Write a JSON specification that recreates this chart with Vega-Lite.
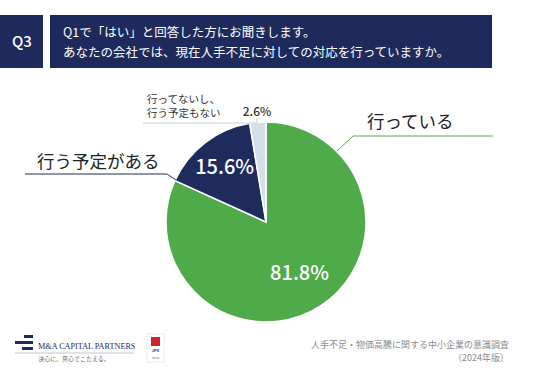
{
  "$schema": "https://vega.github.io/schema/vega-lite/v6.json",
  "width": 532,
  "height": 298,
  "autosize": {"type": "none"},
  "padding": {"left": 0, "top": 73, "right": 4, "bottom": 0},
  "background": "white",
  "config": {"view": {"stroke": null}, "font": "Noto Sans CJK JP"},
  "data": {"values": [
    {"category": "行っている", "value": 81.8, "pct": "81.8%", "order": 1},
    {"category": "行う予定がある", "value": 15.6, "pct": "15.6%", "order": 2},
    {"category": "行ってないし、行う予定もない", "value": 2.6, "pct": "2.6%", "order": 3}
  ]},
  "layer": [
    {
      "mark": {"type": "arc", "outerRadius": 100, "stroke": "white", "strokeWidth": 1.5},
      "encoding": {
        "theta": {"field": "value", "type": "quantitative", "stack": true},
        "order": {"field": "order", "type": "quantitative"},
        "color": {"field": "category", "type": "nominal", "legend": null,
          "scale": {"domain": ["行っている", "行う予定がある", "行ってないし、行う予定もない"], "range": ["#4fab4a", "#1f2b5c", "#d6dce8"]}}
      }
    },
    {
      "mark": {"type": "text", "radius": 62, "color": "white", "fontSize": 20, "fontWeight": 500, "align": "center", "baseline": "middle"},
      "encoding": {
        "theta": {"field": "value", "type": "quantitative", "stack": true},
        "order": {"field": "order", "type": "quantitative"},
        "text": {"condition": {"test": "datum.order !== 1", "value": ""}, "field": "pct"}
      }
    },
    {
      "mark": {"type": "text", "radius": 68, "color": "white", "fontSize": 20, "fontWeight": 500, "align": "center", "baseline": "middle"},
      "encoding": {
        "theta": {"field": "value", "type": "quantitative", "stack": true},
        "order": {"field": "order", "type": "quantitative"},
        "text": {"condition": {"test": "datum.order !== 2", "value": ""}, "field": "pct"}
      }
    },
    {
      "mark": {"type": "text", "radius": 110, "color": "#333333", "fontSize": 12, "fontWeight": 500, "align": "center", "baseline": "middle"},
      "encoding": {
        "theta": {"field": "value", "type": "quantitative", "stack": true},
        "order": {"field": "order", "type": "quantitative"},
        "text": {"condition": {"test": "datum.order !== 3", "value": ""}, "field": "pct"}
      }
    },
    {"data": {"values": [{}]}, "mark": {"type": "rect", "fill": "#1d2a5b"}, "encoding": {"x": {"value": 0}, "x2": {"value": 43}, "y": {"value": -58}, "y2": {"value": -5}}},
    {"data": {"values": [{}]}, "mark": {"type": "rect", "fill": "#1d2a5b"}, "encoding": {"x": {"value": 50}, "x2": {"value": 492}, "y": {"value": -58}, "y2": {"value": -5}}},
    {"data": {"values": [{}]}, "mark": {"type": "text", "x": 22, "y": -31, "text": "Q3", "color": "white", "fontSize": 15, "fontWeight": 500, "align": "center", "baseline": "middle"}, "encoding": {}},
    {"data": {"values": [{}]}, "mark": {"type": "text", "x": 63, "y": -40, "text": "Q1で「はい」と回答した方にお聞きします。", "color": "white", "fontSize": 12.5, "fontWeight": 400, "align": "left", "baseline": "middle"}, "encoding": {}},
    {"data": {"values": [{}]}, "mark": {"type": "text", "x": 63, "y": -20, "text": "あなたの会社では、現在人手不足に対しての対応を行っていますか。", "color": "white", "fontSize": 12.5, "fontWeight": 400, "align": "left", "baseline": "middle"}, "encoding": {}},
    {"data": {"values": [{}]}, "mark": {"type": "text", "x": 367, "y": 50, "text": "行っている", "color": "#222222", "fontSize": 17.5, "fontWeight": 400, "align": "left", "baseline": "middle"}, "encoding": {}},
    {"data": {"values": [{}]}, "mark": {"type": "rule", "stroke": "#4fab4a", "strokeWidth": 1}, "encoding": {"x": {"value": 337}, "y": {"value": 78}, "x2": {"value": 353}, "y2": {"value": 63}}},
    {"data": {"values": [{}]}, "mark": {"type": "rule", "stroke": "#4fab4a", "strokeWidth": 1}, "encoding": {"x": {"value": 353}, "y": {"value": 63}, "x2": {"value": 493}, "y2": {"value": 63}}},
    {"data": {"values": [{}]}, "mark": {"type": "text", "x": 37, "y": 90, "text": "行う予定がある", "color": "#222222", "fontSize": 17.5, "fontWeight": 400, "align": "left", "baseline": "middle"}, "encoding": {}},
    {"data": {"values": [{}]}, "mark": {"type": "rule", "stroke": "#1f2b5c", "strokeWidth": 1}, "encoding": {"x": {"value": 25}, "y": {"value": 101}, "x2": {"value": 167}, "y2": {"value": 101}}},
    {"data": {"values": [{}]}, "mark": {"type": "rule", "stroke": "#1f2b5c", "strokeWidth": 1}, "encoding": {"x": {"value": 167}, "y": {"value": 101}, "x2": {"value": 176}, "y2": {"value": 107}}},
    {"data": {"values": [{}]}, "mark": {"type": "text", "x": 147, "y": 27, "text": "行ってないし、", "color": "#333333", "fontSize": 10.5, "fontWeight": 400, "align": "left", "baseline": "middle"}, "encoding": {}},
    {"data": {"values": [{}]}, "mark": {"type": "text", "x": 147, "y": 40.5, "text": "行う予定もない", "color": "#333333", "fontSize": 10.5, "fontWeight": 400, "align": "left", "baseline": "middle"}, "encoding": {}},
    {"data": {"values": [{}]}, "mark": {"type": "rule", "stroke": "#c9ced9", "strokeWidth": 1}, "encoding": {"x": {"value": 143}, "y": {"value": 50}, "x2": {"value": 257}, "y2": {"value": 50}}},
    {"data": {"values": [{}]}, "mark": {"type": "rule", "stroke": "#c9ced9", "strokeWidth": 1}, "encoding": {"x": {"value": 257}, "y": {"value": 45}, "x2": {"value": 257}, "y2": {"value": 50}}},
    {"data": {"values": [{}]}, "mark": {"type": "rect", "fill": "#1f2b5c"}, "encoding": {"x": {"value": 24}, "x2": {"value": 33}, "y": {"value": 262}, "y2": {"value": 265}}},
    {"data": {"values": [{}]}, "mark": {"type": "rect", "fill": "#1f2b5c"}, "encoding": {"x": {"value": 15}, "x2": {"value": 33}, "y": {"value": 268}, "y2": {"value": 271}}},
    {"data": {"values": [{}]}, "mark": {"type": "rect", "fill": "#1f2b5c"}, "encoding": {"x": {"value": 22}, "x2": {"value": 33}, "y": {"value": 274}, "y2": {"value": 277}}},
    {"data": {"values": [{}]}, "mark": {"type": "text", "x": 38, "y": 276, "text": "M&A CAPITAL PARTNERS", "font": "Liberation Serif", "color": "#1f2b5c", "fontSize": 8.2, "align": "left", "baseline": "alphabetic"}, "encoding": {}},
    {"data": {"values": [{}]}, "mark": {"type": "rule", "stroke": "#9aa0ad", "strokeWidth": 0.6}, "encoding": {"x": {"value": 15}, "y": {"value": 280}, "x2": {"value": 134}, "y2": {"value": 280}}},
    {"data": {"values": [{}]}, "mark": {"type": "text", "x": 74, "y": 286, "text": "決心に、真心でこたえる。", "color": "#666666", "fontSize": 6, "align": "center", "baseline": "middle"}, "encoding": {}},
    {"data": {"values": [{}]}, "mark": {"type": "rect", "fill": "white", "stroke": "#dddddd", "strokeWidth": 0.6}, "encoding": {"x": {"value": 147}, "x2": {"value": 164}, "y": {"value": 261}, "y2": {"value": 289}}},
    {"data": {"values": [{}]}, "mark": {"type": "rect", "fill": "#d2232a"}, "encoding": {"x": {"value": 151}, "x2": {"value": 160}, "y": {"value": 264}, "y2": {"value": 273}}},
    {"data": {"values": [{}]}, "mark": {"type": "text", "x": 155.5, "y": 278, "text": "JPX", "color": "#333333", "fontSize": 4, "fontWeight": "bold", "align": "center", "baseline": "middle"}, "encoding": {}},
    {"data": {"values": [{}]}, "mark": {"type": "text", "x": 155.5, "y": 285, "text": "PRIME", "color": "#666666", "fontSize": 2.5, "align": "center", "baseline": "middle"}, "encoding": {}},
    {"data": {"values": [{}]}, "mark": {"type": "text", "x": 509, "y": 272, "text": "人手不足・物価高騰に関する中小企業の意識調査", "color": "#8c8c8c", "fontSize": 9, "align": "right", "baseline": "middle"}, "encoding": {}},
    {"data": {"values": [{}]}, "mark": {"type": "text", "x": 509, "y": 285, "text": "（2024年版）", "color": "#8c8c8c", "fontSize": 9, "align": "right", "baseline": "middle"}, "encoding": {}}
  ]
}
